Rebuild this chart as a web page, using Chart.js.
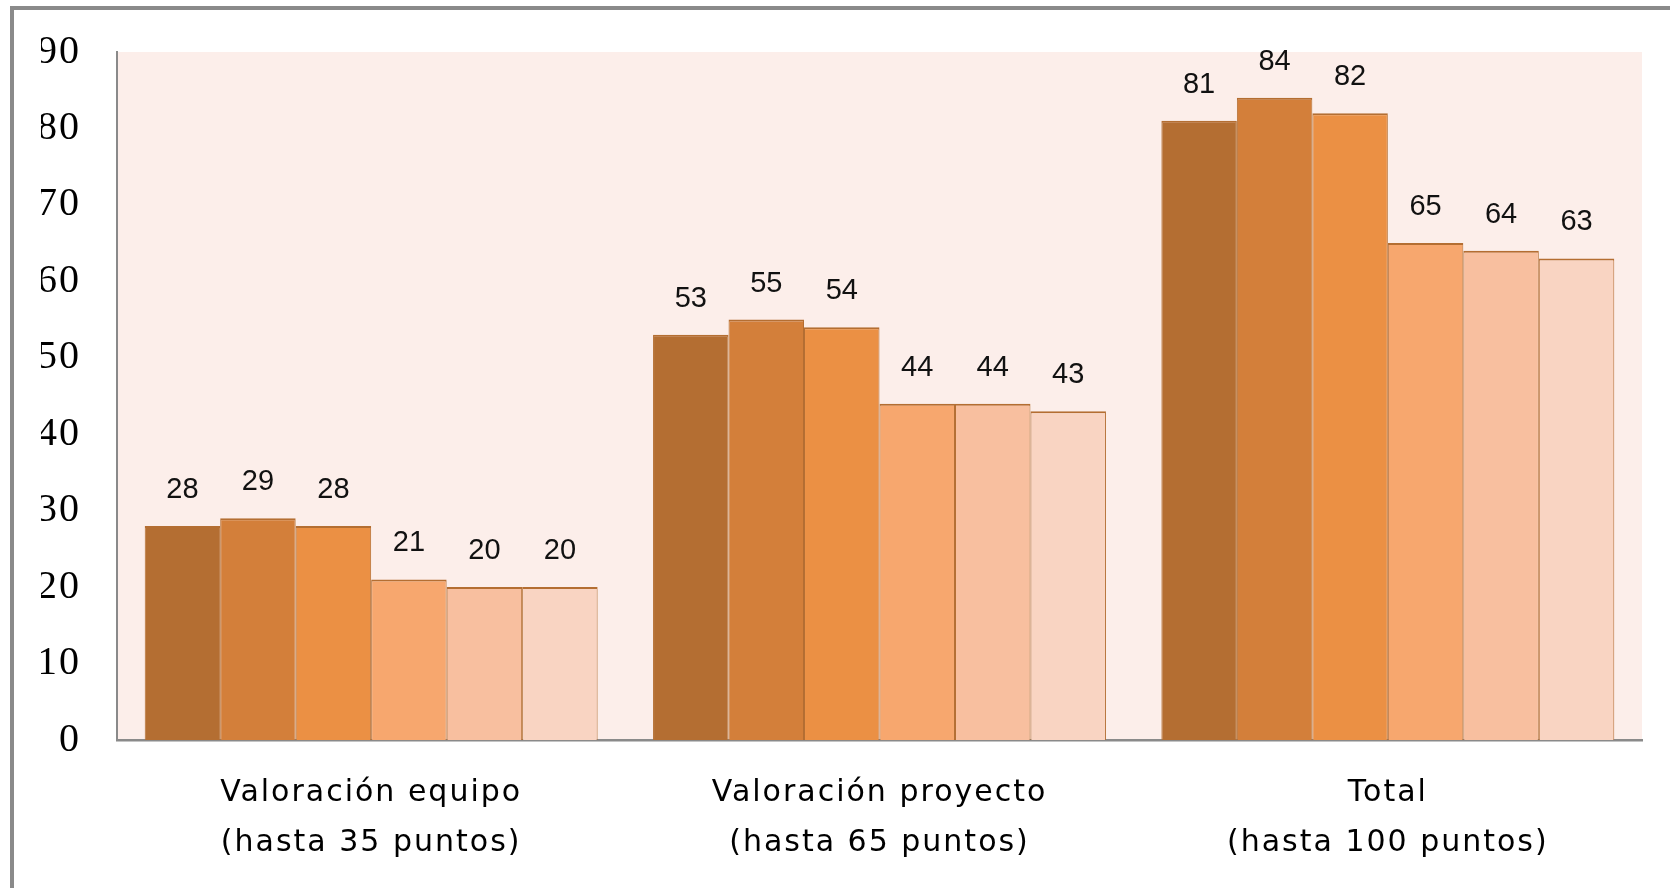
<!DOCTYPE html>
<html>
<head>
<meta charset="utf-8">
<script src="https://cdn.jsdelivr.net/npm/chart.js@4.4.1/dist/chart.umd.min.js"></script>
<style>
  html, body { margin: 0; padding: 0; background: #ffffff; }
  #wrap { position: relative; width: 1670px; height: 888px; }
  canvas { display: block; }
</style>
</head>
<body>
<div id="wrap"><canvas id="c" width="1670" height="888"></canvas></div>
<script>
// ---- data ----
const categories = [
  ['Valoración equipo', '(hasta 35 puntos)'],
  ['Valoración proyecto', '(hasta 65 puntos)'],
  ['Total', '(hasta 100 puntos)']
];
const serie1 = [28, 53, 81];
const serie2 = [29, 55, 84];
const serie3 = [28, 54, 82];
const serie4 = [21, 44, 65];
const serie5 = [20, 44, 64];
const serie6 = [20, 43, 63];
const seriesNames = ['Serie 1', 'Serie 2', 'Serie 3', 'Serie 4', 'Serie 5', 'Serie 6'];
const yTicks = [0, 10, 20, 30, 40, 50, 60, 70, 80, 90];

// ---- styles ----
const fills = ['#B46E32', '#D37F3A', '#EB9044', '#F7A76E', '#F8BF9F', '#F9D4C2'];
const allSeries = [serie1, serie2, serie3, serie4, serie5, serie6];

const frameAndBg = {
  id: 'frameAndBg',
  beforeDraw(chart) {
    const ctx = chart.ctx;
    const a = chart.chartArea;
    ctx.save();
    ctx.fillStyle = '#ffffff';
    ctx.fillRect(0, 0, chart.width, chart.height);
    ctx.fillStyle = '#FCEEEA';
    ctx.fillRect(a.left, a.top, a.right - a.left, a.bottom - a.top);
    ctx.fillStyle = '#8A8A8A';
    ctx.fillRect(10, 6, chart.width - 10, 4);
    ctx.fillRect(10, 6, 4, chart.height - 6);
    ctx.restore();
    ctx.letterSpacing = '2px';
  },
  beforeDatasetsDraw(chart) {
    chart.ctx.letterSpacing = '0px';
  }
};

const valueLabels = {
  id: 'valueLabels',
  afterDatasetsDraw(chart) {
    const ctx = chart.ctx;
    ctx.save();
    ctx.letterSpacing = '0px';
    ctx.font = '29px "Liberation Sans", Arial, sans-serif';
    ctx.fillStyle = '#111111';
    ctx.textAlign = 'center';
    ctx.textBaseline = 'middle';
    chart.data.datasets.forEach((ds, i) => {
      const meta = chart.getDatasetMeta(i);
      meta.data.forEach((bar, j) => {
        ctx.fillText(String(ds.data[j]), bar.x, bar.y - 36);
      });
    });
    ctx.restore();
  }
};

new Chart(document.getElementById('c'), {
  type: 'bar',
  data: {
    labels: categories,
    datasets: allSeries.map((vals, i) => ({
      label: seriesNames[i],
      data: vals,
      backgroundColor: fills[i],
      borderColor: '#B46E32',
      borderWidth: { top: 2, left: 1, right: 1, bottom: 0 },
      borderSkipped: false,
      categoryPercentage: 0.891,
      barPercentage: 1.0
    }))
  },
  options: {
    responsive: false,
    animation: false,
    devicePixelRatio: 1,
    layout: { padding: { left: 41, right: 28, top: 52, bottom: 17 } },
    plugins: {
      legend: { display: false },
      tooltip: { enabled: false },
      title: { display: false }
    },
    scales: {
      x: {
        grid: { display: false, drawTicks: false },
        border: { display: true, color: '#8A8A8A', width: 2.5 },
        afterFit(s) { s.height = 131; s.paddingLeft = 0; s.paddingRight = 0; },
        ticks: {
          color: '#000000',
          padding: 28,
          maxRotation: 0,
          autoSkip: false,
          font: { family: '"DejaVu Sans", Verdana, sans-serif', size: 30, lineHeight: 50 / 30 }
        }
      },
      y: {
        min: 0,
        max: 90,
        grid: { display: false, drawTicks: false },
        border: { display: true, color: '#8A8A8A', width: 2 },
        afterFit(s) { s.width = 76; s.paddingTop = 0; s.paddingBottom = 0; },
        afterBuildTicks(s) { s.ticks = yTicks.map(v => ({ value: v })); },
        ticks: {
          color: '#000000',
          padding: 36,
          font: { family: '"Liberation Serif", "Times New Roman", serif', size: 40 }
        }
      }
    }
  },
  plugins: [frameAndBg, valueLabels]
});
</script>
</body>
</html>
